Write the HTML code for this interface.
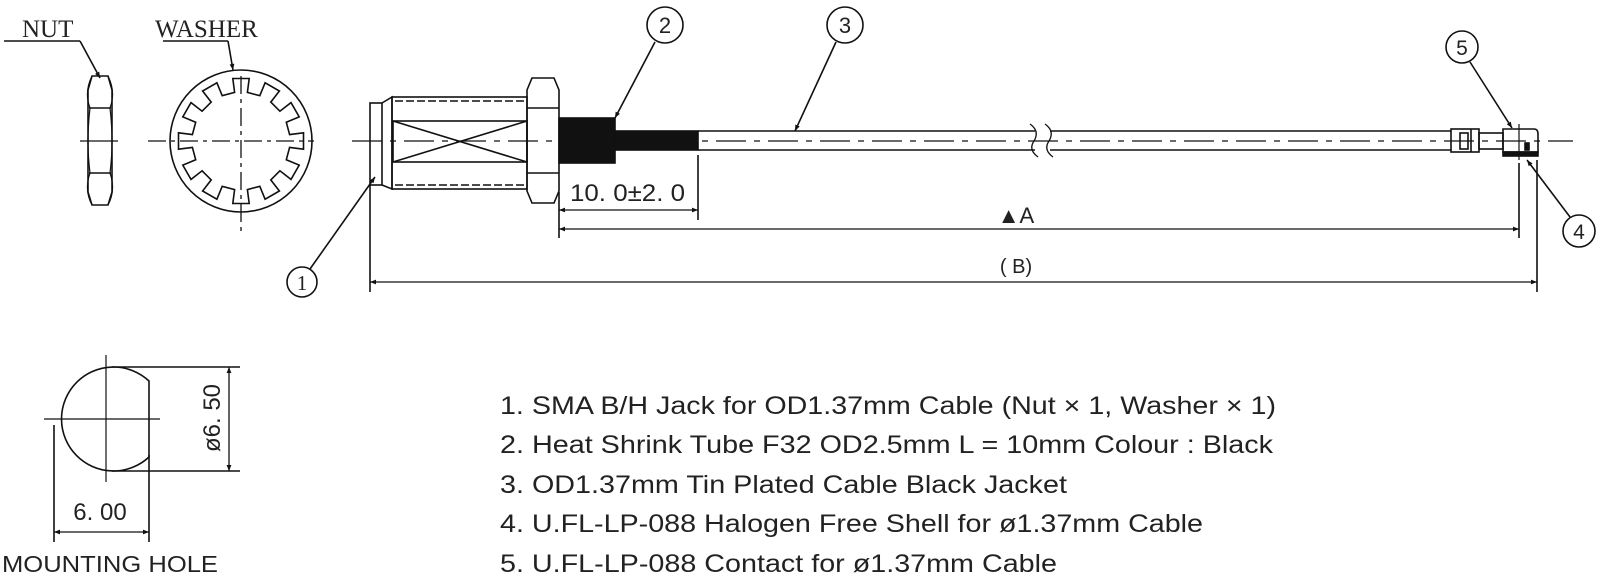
<!DOCTYPE html>
<html><head><meta charset="utf-8"><style>
html,body{margin:0;padding:0;background:#fff;}
svg{display:block;}
.t{font-family:"Liberation Sans",Arial,sans-serif;fill:#222;}
.s{font-family:"Liberation Serif",serif;fill:#222;}
</style></head><body>
<svg id="d" width="1600" height="578" viewBox="0 0 1600 578" xmlns="http://www.w3.org/2000/svg">
<defs>
<marker id="ah" viewBox="0 0 10 10" refX="10" refY="5" markerWidth="12" markerHeight="6" orient="auto-start-reverse" markerUnits="userSpaceOnUse"><path d="M0,1 L10,5 L0,9 z" fill="#111"/></marker>
</defs>
<g stroke="#111" stroke-width="1.6" fill="none">
<!-- NUT -->
<text x="22" y="37" class="s" font-size="25" stroke="none">NUT</text>
<line x1="4" y1="41" x2="80" y2="41"/>
<line x1="80" y1="41" x2="100" y2="78" marker-end="url(#ah)"/>
<path d="M92,76 L108,76 L112,90 L112,192 L108,205 L92,205 L88,192 L88,90 Z"/>
<line x1="89" y1="108" x2="111" y2="108"/><line x1="89" y1="173" x2="111" y2="173"/>
<path d="M90,108 Q86,141 90,173 M110,108 Q114,141 110,173" stroke-width="1.2"/>
<path d="M90,108 Q84,92 92,76 M108,76 Q116,92 110,108 M90,173 Q84,190 92,205 M110,173 Q116,190 108,205" stroke-width="1.2"/>
<line x1="80" y1="141" x2="118" y2="141" stroke-width="1.2"/>
<!-- WASHER -->
<text x="155" y="37" class="s" font-size="25" stroke="none">WASHER</text>
<line x1="163" y1="41" x2="228" y2="41"/>
<line x1="228" y1="41" x2="233" y2="70" marker-end="url(#ah)"/>
<circle cx="241" cy="141" r="71"/>
<polygon id="teeth" points=""/>
<line x1="148" y1="141" x2="314" y2="141" stroke-dasharray="18,5,4,5" stroke-width="1.3"/>
<line x1="241" y1="76" x2="241" y2="232" stroke-dasharray="18,5,4,5" stroke-width="1.3"/>
<!-- connector -->
<line x1="352" y1="141" x2="1573" y2="141" stroke-dasharray="30,8,6,8" stroke-width="1.2"/>
<rect x="370" y="103" width="12" height="82"/>
<path d="M382,103 L392,97 L392,189 L382,185"/>
<rect x="392" y="97" width="135" height="92"/>
<line x1="395" y1="101" x2="525" y2="101" stroke-dasharray="8,3"/>
<line x1="395" y1="185" x2="525" y2="185" stroke-dasharray="8,3"/>
<rect x="393" y="121" width="134" height="41"/>
<line x1="393" y1="121" x2="527" y2="162"/><line x1="393" y1="162" x2="527" y2="121"/>
<path d="M532,78 L554,78 L559,90 L559,191 L554,203 L532,203 L527,191 L527,90 Z"/>
<line x1="527" y1="108" x2="559" y2="108"/><line x1="527" y1="173" x2="559" y2="173"/>
<rect x="559" y="118" width="56" height="45" fill="#111"/>
<rect x="615" y="131" width="83" height="19" fill="#111"/>
<!-- cable -->
<line x1="698" y1="131" x2="1035" y2="131"/><line x1="698" y1="150" x2="1035" y2="150"/>
<line x1="1050" y1="131" x2="1451" y2="131"/><line x1="1050" y1="150" x2="1451" y2="150"/>
<path d="M1030,124 Q1040,131 1034,141 Q1028,150 1038,157 M1045,124 Q1055,131 1049,141 Q1043,150 1053,157" stroke-width="1.3"/>
<!-- right connector -->
<rect x="1451" y="129" width="28" height="23"/>
<rect x="1460" y="133" width="8" height="16"/>
<line x1="1471" y1="129" x2="1471" y2="152"/>
<rect x="1479" y="133" width="24" height="16"/>
<path d="M1503,129 L1534,129 Q1538,129 1538,134 L1538,152 L1503,152 Z"/>
<rect x="1503" y="152" width="35" height="4" fill="#111"/>
<line x1="1519" y1="124" x2="1519" y2="160" stroke-width="1.2"/>
<rect x="1525" y="143" width="4" height="7" fill="#111"/>
<!-- balloons -->
<circle cx="665" cy="25" r="18"/><text x="665" y="33" class="t" font-size="22" text-anchor="middle" stroke="none">2</text>
<line x1="655" y1="42" x2="615" y2="118" marker-end="url(#ah)"/>
<circle cx="845" cy="25" r="18"/><text x="845" y="33" class="t" font-size="22" text-anchor="middle" stroke="none">3</text>
<line x1="836" y1="42" x2="795" y2="131" marker-end="url(#ah)"/>
<circle cx="1462" cy="47" r="16"/><text x="1462" y="55" class="t" font-size="21" text-anchor="middle" stroke="none">5</text>
<line x1="1470" y1="62" x2="1512" y2="128" marker-end="url(#ah)"/>
<circle cx="1579" cy="231" r="16"/><text x="1579" y="239" class="t" font-size="21" text-anchor="middle" stroke="none">4</text>
<line x1="1570" y1="217" x2="1527" y2="160" marker-end="url(#ah)"/>
<circle cx="302" cy="282" r="15"/><text x="302" y="290" class="s" font-size="21" text-anchor="middle" stroke="none">1</text>
<line x1="310" y1="269" x2="375" y2="177" marker-end="url(#ah)"/>
<!-- dims -->
<line x1="370" y1="185" x2="370" y2="292"/>
<line x1="559" y1="192" x2="559" y2="238"/>
<line x1="698" y1="155" x2="698" y2="220"/>
<line x1="1519" y1="163" x2="1519" y2="238"/>
<line x1="1537" y1="160" x2="1537" y2="292"/>
<line x1="559" y1="210" x2="698" y2="210" marker-start="url(#ah)" marker-end="url(#ah)" stroke-width="1.3"/>
<line x1="559" y1="229" x2="1519" y2="229" marker-start="url(#ah)" marker-end="url(#ah)" stroke-width="1.3"/>
<line x1="370" y1="282" x2="1537" y2="282" marker-start="url(#ah)" marker-end="url(#ah)" stroke-width="1.3"/>
<text x="570" y="201" class="t" font-size="24" stroke="none" textLength="115" lengthAdjust="spacingAndGlyphs" fill="#333">10. 0±2. 0</text>
<text x="1016" y="223" class="t" font-size="22" text-anchor="middle" stroke="none">▲A</text>
<text x="1016" y="273" class="t" font-size="20" text-anchor="middle" stroke="none">( B)</text>
<!-- mounting hole -->
<path d="M149,381 A52,52 0 1 0 149,457 Z"/>
<line x1="44" y1="419" x2="160" y2="419" stroke-width="1.2"/>
<line x1="106" y1="355" x2="106" y2="482" stroke-width="1.2"/>
<line x1="112" y1="367" x2="240" y2="367"/><line x1="112" y1="471" x2="240" y2="471"/>
<line x1="229" y1="367" x2="229" y2="471" marker-start="url(#ah)" marker-end="url(#ah)" stroke-width="1.3"/>
<line x1="54" y1="425" x2="54" y2="542"/><line x1="149" y1="455" x2="149" y2="542"/>
<line x1="54" y1="532" x2="149" y2="532" marker-start="url(#ah)" marker-end="url(#ah)" stroke-width="1.3"/>
<text x="100" y="520" class="t" font-size="24" text-anchor="middle" stroke="none" fill="#333">6. 00</text>
<text transform="translate(220,418) rotate(-90)" x="0" y="0" class="t" font-size="24" text-anchor="middle" stroke="none" fill="#333">ø6. 50</text>
</g>
<text x="2" y="572" class="t" font-size="23" textLength="216" lengthAdjust="spacingAndGlyphs">MOUNTING HOLE</text>
<g class="t" font-size="25">
<text x="500" y="414" textLength="776" lengthAdjust="spacingAndGlyphs">1. SMA B/H Jack for OD1.37mm Cable (Nut × 1, Washer × 1)</text>
<text x="500" y="453" textLength="773" lengthAdjust="spacingAndGlyphs">2. Heat Shrink Tube F32 OD2.5mm L = 10mm Colour : Black</text>
<text x="500" y="493" textLength="567" lengthAdjust="spacingAndGlyphs">3. OD1.37mm Tin Plated Cable Black Jacket</text>
<text x="500" y="532" textLength="703" lengthAdjust="spacingAndGlyphs">4. U.FL-LP-088 Halogen Free Shell for ø1.37mm Cable</text>
<text x="500" y="572" textLength="557" lengthAdjust="spacingAndGlyphs">5. U.FL-LP-088 Contact for ø1.37mm Cable</text>
</g>
</svg>
<script>
(function(){var cx=241,cy=141,p=[],n=12,ro=63,ri=49;
for(var i=0;i<n;i++){var a0=(i*30-7.5)*Math.PI/180,a1=(i*30+7.5)*Math.PI/180,a2=(i*30+22.5)*Math.PI/180;
function pt(r,a){return (cx+r*Math.sin(a)).toFixed(1)+','+(cy-r*Math.cos(a)).toFixed(1);}
p.push(pt(ro,a0),pt(ro,a1),pt(ri,a1),pt(ri,a2));}
document.getElementById('teeth').setAttribute('points',p.join(' '));})();
</script>
</body></html>
